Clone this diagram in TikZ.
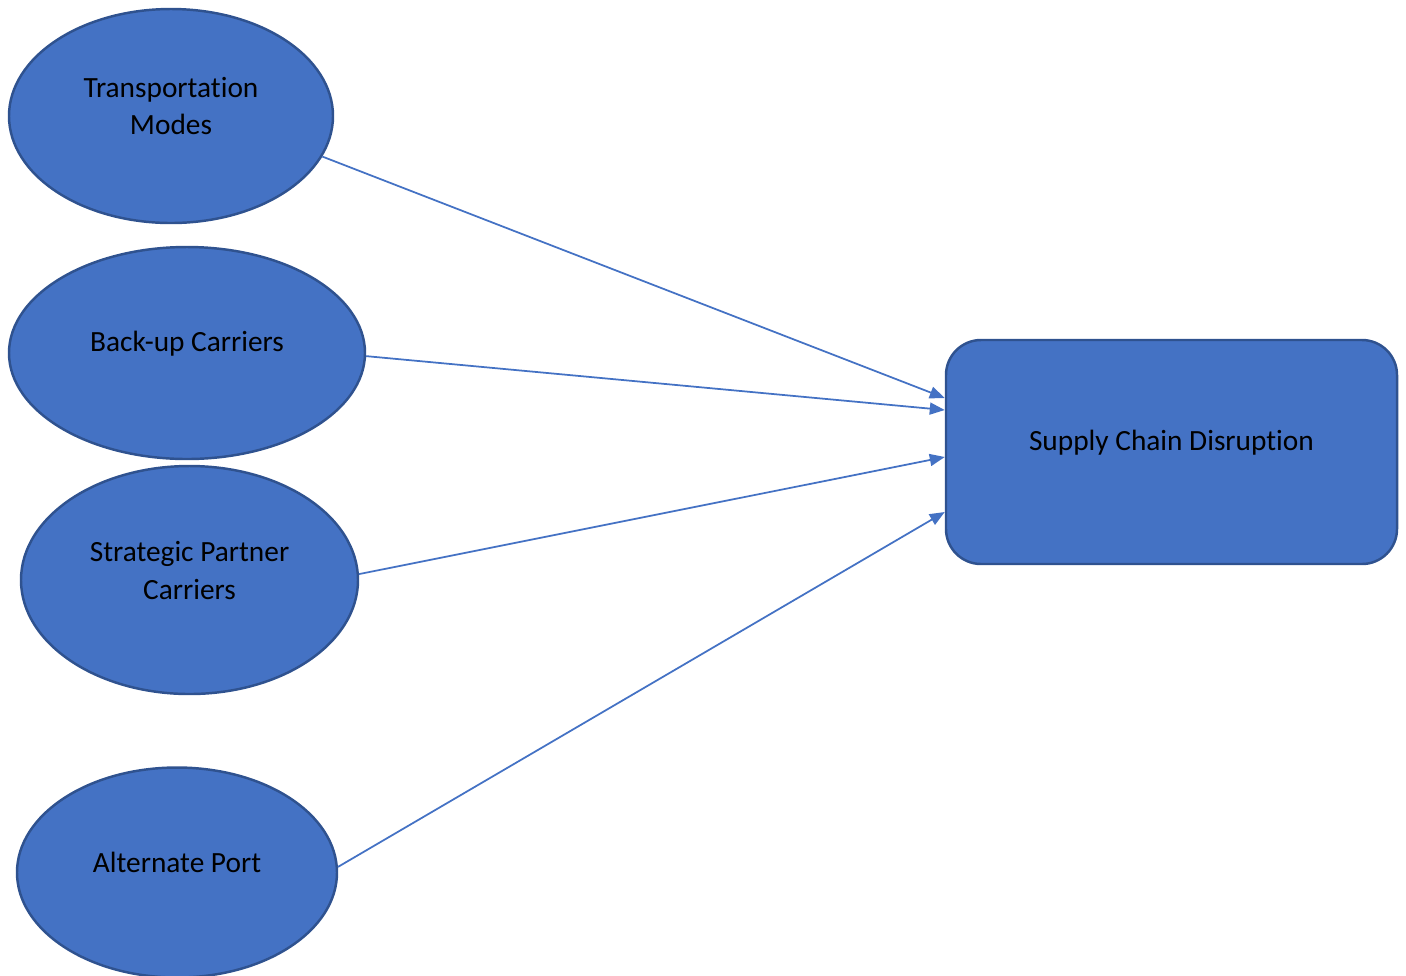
\documentclass[tikz,border=0pt]{standalone}
\usepackage{fontspec}
\setmainfont{Carlito}[Ligatures=NoCommon]
\usepackage{tikz}
\usetikzlibrary{arrows.meta, positioning, calc, shapes.geometric}
\definecolor{officeblue}{HTML}{4472C4}
\definecolor{officeedge}{HTML}{2F528F}

\tikzset{
  oval/.style={ellipse, draw=officeedge, fill=officeblue, line width=1.4pt, inner sep=0pt},
  outcome/.style={rectangle, rounded corners=0.7cm, draw=officeedge, fill=officeblue, line width=1.4pt,
    minimum width=9.02cm, minimum height=4.48cm, inner sep=0pt},
  lbl/.style={align=center, font=\fontsize{16.7}{21.6}\selectfont, text=black},
  link/.style={-{Triangle[length=0.3cm, width=0.24cm]}, draw=officeblue, line width=1pt}
}

\begin{document}
\begin{tikzpicture}
  \useasboundingbox (0,0) rectangle (28.12,-19.5);

  % Driver ovals
  \node[oval, minimum width=6.48cm, minimum height=4.28cm] (modes) at (3.42,-2.32) {};
  \node[lbl] (modestext) at ([yshift=0.2cm]modes.center) {Transportation\\Modes};

  \node[oval, minimum width=7.12cm, minimum height=4.24cm] (backup) at (3.74,-7.06) {};
  \node[lbl] (backuptext) at ([yshift=0.18cm]backup.center) {Back-up Carriers};

  \node[oval, minimum width=6.74cm, minimum height=4.56cm] (partner) at (3.79,-11.6) {};
  \node[lbl] (partnertext) at ([yshift=0.19cm]partner.center) {Strategic Partner\\Carriers};

  \node[oval, minimum width=6.4cm, minimum height=4.2cm] (port) at (3.54,-17.45) {};
  \node[lbl] (porttext) at ([yshift=0.21cm]port.center) {Alternate Port};

  % Outcome box
  \node[outcome] (disrupt) at (23.43,-9.04) {};
  \node[lbl] (disrupttext) at ([yshift=0.18cm]disrupt.center) {Supply Chain Disruption};

  % Arrows into the box
  \draw[link] (modes.-15) -- ([yshift=1.08cm]disrupt.west);
  \draw[link] (backup.-1) -- ([yshift=0.84cm]disrupt.west);
  \draw[link] (partner.2) -- ([yshift=-0.1cm]disrupt.west);
  \draw[link] (port.2) -- ([yshift=-1.2cm]disrupt.west);
\end{tikzpicture}
\end{document}
